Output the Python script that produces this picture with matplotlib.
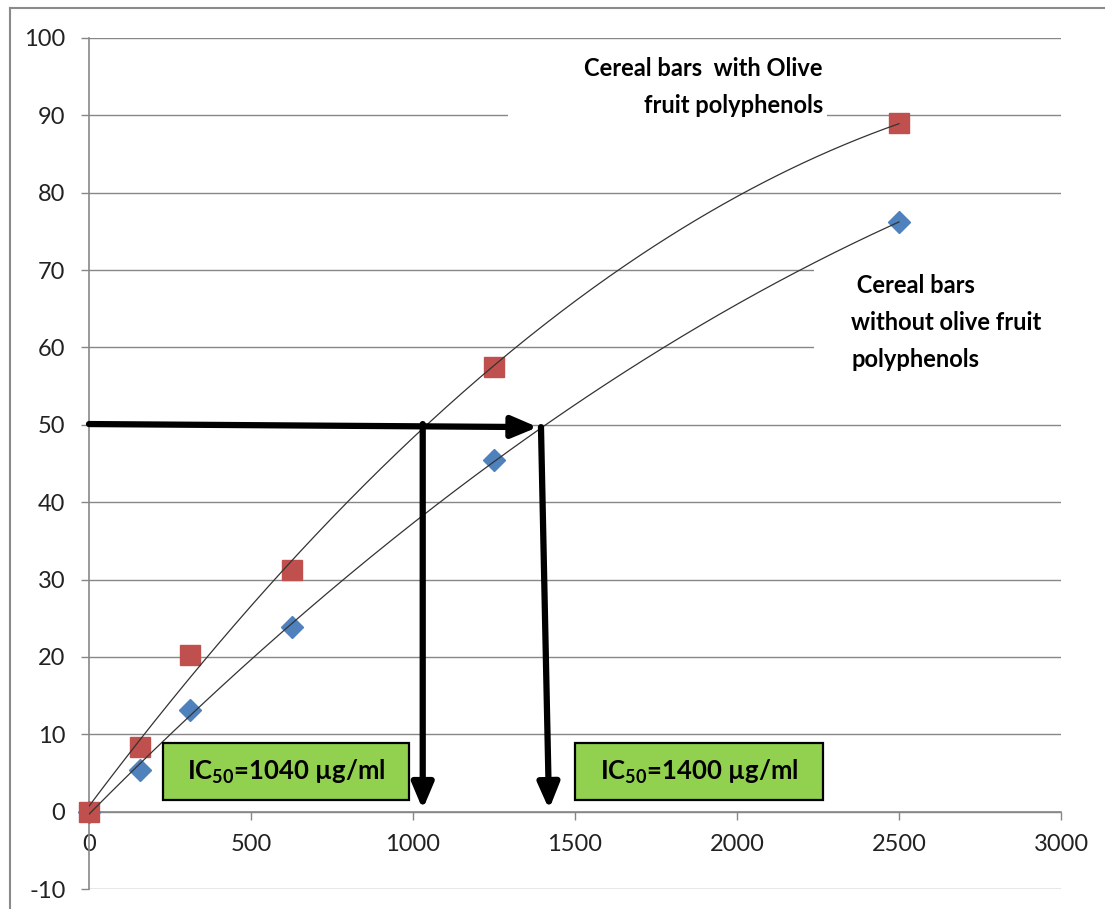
import numpy as np
import matplotlib
matplotlib.use("Agg")
import matplotlib.pyplot as plt
from matplotlib.patches import Rectangle
from matplotlib.lines import Line2D

plt.rcParams['font.family'] = ['Lato', 'DejaVu Sans']
plt.rcParams['mathtext.fontset'] = 'custom'
plt.rcParams['mathtext.rm'] = 'Lato:bold'
plt.rcParams['mathtext.default'] = 'rm'
plt.rcParams['axes.unicode_minus'] = False

# ---- data ----
conc = [0, 156.25, 312.5, 625, 1250, 2500]
with_olive = [0, 8.3, 20.3, 31.2, 57.5, 89.0]
without_olive = [0, 5.4, 13.1, 23.9, 45.4, 76.2]
ic50_with = 1030
ic50_without = 1395
half = 50
x_ticks = [0, 500, 1000, 1500, 2000, 2500, 3000]
y_ticks = [-10, 0, 10, 20, 30, 40, 50, 60, 70, 80, 90, 100]
label_with = "Cereal bars  with Olive\nfruit polyphenols"
label_without = " Cereal bars\nwithout olive fruit\npolyphenols"
ic_text_with = "IC$_{50}$=1040 µg/ml"
ic_text_without = "IC$_{50}$=1400 µg/ml"

RED = '#C0504D'
BLUE = '#4F81BD'
GRID = '#878787'

fig = plt.figure(figsize=(11.05, 9.09), dpi=100)
ax = fig.add_axes([89/1105, 1-889/909, (1061-89)/1105, (889-38)/909])

ax.set_xlim(0, 3000)
ax.set_ylim(-10, 100)
ax.set_xticks(x_ticks)
ax.set_yticks(y_ticks)
ax.yaxis.grid(True, color=GRID, linewidth=1.0, zorder=0)
ax.set_axisbelow(True)
for s in ['top', 'right']:
    ax.spines[s].set_visible(False)
ax.spines['bottom'].set_position(('data', 0))
ax.spines['bottom'].set_color(GRID)
ax.spines['left'].set_color(GRID)
ax.spines['bottom'].set_linewidth(1.2)
ax.spines['left'].set_linewidth(1.2)
ax.tick_params(axis='y', direction='out', length=6, width=1, color=GRID,
               pad=11, labelsize=17, labelcolor='#222222')
ax.tick_params(axis='x', direction='out', length=6, width=1, color=GRID,
               pad=10, labelsize=17, labelcolor='#222222')

# scatter markers
ax.plot(conc, without_olive, linestyle='none', marker='D', ms=11.5,
        color=BLUE, markeredgecolor=BLUE, zorder=3, clip_on=False)
ax.plot(conc, with_olive, linestyle='none', marker='s', ms=14,
        color=RED, markeredgecolor=RED, zorder=3.1, clip_on=False)

# polynomial trendlines (order 2)
xs = np.linspace(0, conc[-1], 300)
for ys in (with_olive, without_olive):
    p = np.polyfit(conc, ys, 2)
    ax.plot(xs, np.polyval(p, xs), color='#333333', linewidth=0.9, zorder=4)

# IC50 arrows
arrow_kw = dict(arrowstyle='-|>,head_length=0.9,head_width=0.38',
                color='black', lw=4.5, mutation_scale=17, shrinkA=0, shrinkB=0)
ax.annotate('', xy=(ic50_without - 10, half - 0.3), xytext=(0, half + 0.1),
            arrowprops=arrow_kw, zorder=5)
ax.annotate('', xy=(ic50_with, 0.3), xytext=(ic50_with, half + 0.1),
            arrowprops=arrow_kw, zorder=5)
ax.annotate('', xy=(ic50_without + 25, 0.3), xytext=(ic50_without, half - 0.3),
            arrowprops=arrow_kw, zorder=5)

# white boxes behind series labels (hide gridlines)
ax.add_patch(Rectangle((1293, 89.2), 985, 10.2, facecolor='white',
                       edgecolor='none', zorder=1))
ax.add_patch(Rectangle((2238, 55.6), 800, 15.3, facecolor='white',
                       edgecolor='none', zorder=1, clip_on=False))
ax.text(2265, 93.7, label_with, ha='right', va='center', multialignment='right',
        fontsize=17, fontweight='bold', linespacing=1.75, zorder=2)
ax.text(2352, 63.2, label_without, ha='left', va='center', multialignment='left',
        fontsize=17, fontweight='bold', linespacing=1.75, zorder=2)

# green IC50 boxes
for (x0, x1), t in (((228, 988), ic_text_with), ((1500, 2265), ic_text_without)):
    ax.add_patch(Rectangle((x0, 1.55), x1 - x0, 7.35, facecolor='#92D050',
                           edgecolor='black', linewidth=1.6, zorder=6))
    ax.text((x0 + x1) / 2, 5.2, t, ha='center', va='center', fontsize=18.5,
            fontweight='bold', zorder=7)

# outer chart frame (left and top edges visible)
fig.add_artist(Line2D([10/1105, 10/1105], [0, 1-8/909], color='#8a8a8a', lw=1.5))
fig.add_artist(Line2D([10/1105, 1], [1-8/909, 1-8/909], color='#8a8a8a', lw=1.5))

fig.savefig('out.png', dpi=100)
